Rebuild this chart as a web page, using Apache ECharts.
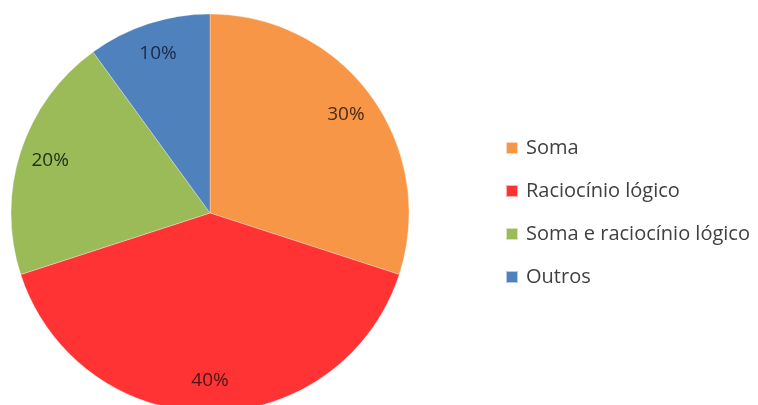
<!DOCTYPE html>
<html>
<head>
<meta charset="utf-8">
<script src="https://cdn.jsdelivr.net/npm/echarts@6/dist/echarts.min.js"></script>
<style>html,body{margin:0;padding:0;background:#fff}#c{width:758px;height:405px}</style>
</head>
<body>
<div id="c"></div>
<script>
const categories = ['Soma', 'Raciocínio lógico', 'Soma e raciocínio lógico', 'Outros'];
const values = [30, 40, 20, 10];
const colors = ['#F79646', '#FF3333', '#9BBB59', '#4F81BD'];
const labelColors = ['#4A2A12', '#4A1515', '#22301A', '#1C2A48'];

const chart = echarts.init(document.getElementById('c'));
const pieData = categories.map((n, i) => ({ name: n, value: values[i], itemStyle: { color: colors[i] } }));
const labelData = categories.map((n, i) => ({ name: n, value: values[i], itemStyle: { color: 'rgba(0,0,0,0)' }, label: { color: labelColors[i] } }));

chart.setOption({
  animation: false,
  backgroundColor: '#fff',
  legend: {
    orient: 'vertical',
    left: 505,
    top: 138,
    padding: 0,
    itemWidth: 12,
    itemHeight: 12,
    itemGap: 23,
    icon: 'rect',
    data: categories,
    textStyle: { fontFamily: 'Open Sans', fontSize: 20, color: '#404040', lineHeight: 20, padding: [0, 0, 0, 3] }
  },
  series: [
    {
      type: 'pie',
      center: [210, 213],
      radius: [0, 199],
      startAngle: 90,
      clockwise: true,
      silent: true,
      label: { show: false },
      labelLine: { show: false },
      itemStyle: { borderColor: 'rgba(255,255,255,0.6)', borderWidth: 0.5 },
      data: pieData
    },
    {
      type: 'pie',
      center: [210, 213],
      radius: [140, 190],
      startAngle: 90,
      clockwise: true,
      silent: true,
      z: 5,
      label: {
        show: true,
        position: 'inside',
        formatter: p => p.value + '%',
        fontFamily: 'Open Sans',
        fontSize: 19
      },
      labelLine: { show: false },
      data: labelData
    }
  ]
});
</script>
</body>
</html>
